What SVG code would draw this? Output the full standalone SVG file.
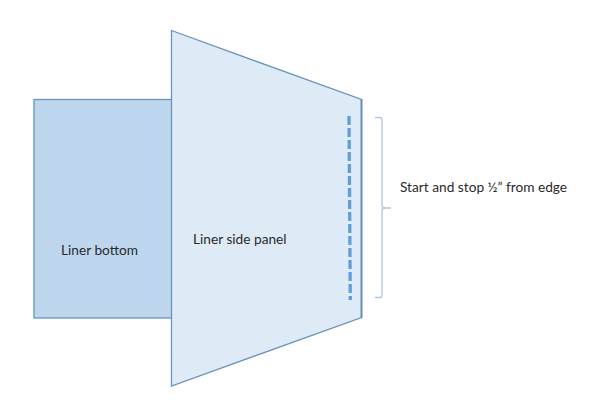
<svg xmlns="http://www.w3.org/2000/svg" width="600" height="404" viewBox="0 0 600 404">
<style>
text{font-family:Lato,"Open Sans","Liberation Sans",sans-serif;font-size:13.7px;fill:#2a2a2a}
.shape{stroke:#6a93bf;stroke-width:1.3}
</style>
<rect width="600" height="404" fill="#fff"/>
<g id="liner-bottom">
<rect class="shape" x="34" y="99.500" width="138" height="218.500" fill="#bdd6ee"/>
<text x="61" y="254.500">Liner bottom</text>
</g>
<g id="liner-side-panel">
<path class="shape" d="M171.500 30.500L361.500 99.500V317.500L171.500 386Z" fill="#deeaf6"/>
<path d="M361.500 99V318" stroke="#5f8dbb" stroke-width="1.800" fill="none"/>
<text x="193" y="243.500">Liner side panel</text>
</g>
<g id="connectors">
<path d="M349 116L350.300 300" fill="none" stroke="#5f9fd8" stroke-width="3.300" stroke-dasharray="9 3"/>
<path d="M375 117.500H380Q382 117.500 382 120V205Q382 208 385 208H391M385 208Q382 208 382 211V295Q382 297.500 380 297.500H375" fill="none" stroke="#a5c8ec" stroke-width="1.300"/>
</g>
<g id="edge-note">
<text x="400" y="192">Start and stop ½” from edge</text>
</g>
</svg>
